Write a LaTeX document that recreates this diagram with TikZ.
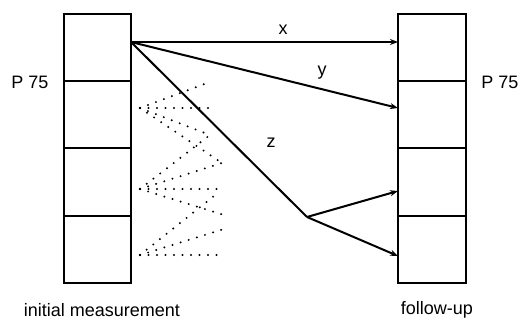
\documentclass[tikz,border=0pt]{standalone}
\usepackage{fontspec}
\setmainfont{Liberation Sans}
\usetikzlibrary{arrows.meta}
\begin{document}
\begin{tikzpicture}[x=1pt,y=-1pt,
  cell/.style={draw,line width=2pt,minimum width=67pt,minimum height=67pt,inner sep=0pt,outer sep=0pt},
  conn/.style={line width=2pt},
  arr/.style={line width=2pt,-{Stealth[length=8pt,width=6pt]}},
  dots/.style={line width=2.2pt,line cap=round,dash pattern=on 0pt off 8.5pt},
  lab/.style={font=\fontsize{18}{21}\selectfont,inner sep=0pt}]
\useasboundingbox (0,0) rectangle (523,321);
% left column
\node[cell] (L1) at (97.5,47.5) {};
\node[cell] (L2) at (97.5,114.5) {};
\node[cell,minimum height=68pt] (L3) at (97.5,182) {};
\node[cell] (L4) at (97.5,249.5) {};
% right column
\node[cell,minimum width=68pt] (R1) at (432,47.5) {};
\node[cell,minimum width=68pt] (R2) at (432,114.5) {};
\node[cell,minimum width=68pt,minimum height=68pt] (R3) at (432,182) {};
\node[cell,minimum width=68pt] (R4) at (432,249.5) {};
% labels
\node[lab] (pl) at (30,82) {P 75};
\node[lab] (pr) at (500,82) {P 75};
\node[lab] (im) at (102,310) {initial measurement};
\node[lab] (fu) at (437,310) {follow-up};
% arrows
\coordinate (src) at (131,42);
\coordinate (xe) at (398,42);
\coordinate (ye) at (398,108);
\coordinate (j) at (307,217);
\coordinate (z1) at (398,191);
\coordinate (z2) at (398,256);
\draw[arr] (src) -- (xe);
\node[lab] (lx) at (283,30) {x};
\draw[arr] (src) -- (ye);
\node[lab] (ly) at (322,73) {y};
\draw[conn] (src) -- (j);
\node[lab] (lz) at (271,143) {z};
\draw[arr] (j) -- (z1);
\draw[arr] (j) -- (z2);
% dotted fans
\coordinate (a2) at (140,108);
\coordinate (a3) at (140,189);
\coordinate (a4) at (140,255);
\coordinate (e1) at (210,82);
\coordinate (e2) at (210,108);
\coordinate (e3) at (210,135);
\coordinate (e4) at (222,163);
\coordinate (e5) at (224,189);
\coordinate (e6) at (224,215);
\coordinate (e7) at (214,196);
\coordinate (e8) at (224,229);
\coordinate (e9) at (224,255);
\foreach \e in {e1,e2,e3,e4} \draw[dots] (a2) -- (\e);
\foreach \e in {e3,e4,e5,e6} \draw[dots] (a3) -- (\e);
\foreach \e in {e7,e8,e9} \draw[dots] (a4) -- (\e);
\end{tikzpicture}
\end{document}
